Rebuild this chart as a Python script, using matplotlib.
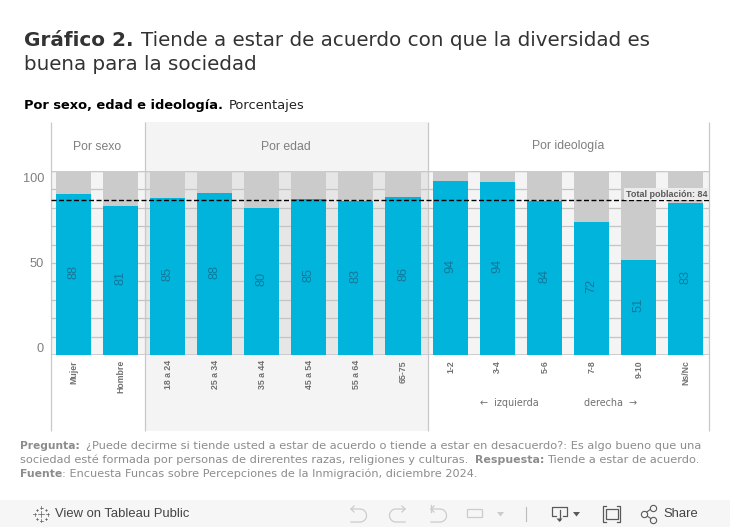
import matplotlib
matplotlib.use("Agg")
import matplotlib.pyplot as plt
from matplotlib.patches import Rectangle
import numpy as np

categories = ["Mujer", "Hombre", "18 a 24", "25 a 34", "35 a 44", "45 a 54", "55 a 64", "65-75",
              "1-2", "3-4", "5-6", "7-8", "9-10", "Ns/Nc"]
values = [88, 81, 85, 88, 80, 85, 83, 86, 94, 94, 84, 72, 51, 83]
bar_tops = [87.6, 81, 85.2, 88.2, 79.9, 84.8, 83.7, 85.9, 94.4, 93.9, 83.7, 72.3, 51.6, 82.6]
total = 84
groups = ["Por sexo", "Por edad", "Por ideología"]
group_edges = [-0.5, 1.5, 7.5, 13.5]

W, H = 730, 527
fig = plt.figure(figsize=(W / 100, H / 100), dpi=100, facecolor="white")

# pixel canvas for everything round the plot
bg = fig.add_axes([0, 0, 1, 1])
bg.set_xlim(0, W)
bg.set_ylim(H, 0)
bg.axis("off")

ax = fig.add_axes([51 / W, 1 - 355 / H, 658 / W, 184 / H])
ax.set_xlim(-0.478, 13.5)
ax.set_ylim(0, 100)
ax.set_facecolor("none")
x = np.arange(len(categories))


def px(v):
    return 74 + 47.08 * v


SANS = "Liberation Sans"
GREY = "#7f7f7f"

# panel backgrounds
bg.add_patch(Rectangle((144.5, 122), 283.5, 309, fc="#f4f4f4", ec="none"))
bg.add_patch(Rectangle((51, 171), 93.5, 184, fc="#f4f4f4", ec="none"))
bg.add_patch(Rectangle((144.5, 171), 283.5, 184, fc="#e6e6e6", ec="none"))
bg.add_patch(Rectangle((428, 171), 281, 184, fc="#f4f4f4", ec="none"))
for xp in [51, 144.5, 428, 709]:
    bg.plot([xp, xp], [122, 431], color="#c8c8c8", lw=0.9, solid_capstyle="butt")

# gridlines
ax.set_yticks(np.arange(0, 101, 10))
ax.set_yticklabels([])
ax.set_xticks([])
ax.grid(axis="y", color="#c4c4c4", lw=0.9)
ax.set_axisbelow(True)
ax.tick_params(length=0)
for s in ax.spines.values():
    s.set_visible(False)
ax.axhline(0, color="#c8c8c8", lw=1.2, zorder=1)
ax.axhline(100, color="#c8c8c8", lw=0.9, zorder=1)

# bars
ax.bar(x, [100] * len(x), width=35 / 47, color="#cbcbcb", zorder=2)
ax.bar(x, bar_tops, width=35 / 47, color="#00b4dc", zorder=3)
for i, v in enumerate(values):
    ax.text(i, bar_tops[i] / 2 + 1.2, str(v), rotation=90, ha="center", va="center",
            color="#11789a", fontsize=9.2, family=SANS, zorder=4)
    bg.text(px(i), 360, categories[i], rotation=90, ha="center", va="top",
            color="#707070", fontsize=6.3, family=SANS, fontweight="bold")

ax.axhline(total, color="black", lw=1, ls=(0, (3.6, 1.8)), zorder=5)
ax.text(13.46, 87.3, f"Total población: {total}", ha="right", va="center", fontsize=6.5,
        family=SANS, fontweight="bold", color="#5a5a5a", zorder=6,
        bbox=dict(fc="#ececec", ec="none", pad=1.2))

# y labels sit inside the plot band, as in the original
for yp, lab in [(179, "100"), (264, "50"), (349, "0")]:
    bg.text(44, yp, lab, ha="right", va="center", fontsize=9.2, family=SANS, color=GREY)

# panel headers
for g, a, b in zip(groups, group_edges[:-1], group_edges[1:]):
    bg.text(px((a + b) / 2), 146.5, g, ha="center", va="center", fontsize=8.8, family=SANS, color=GREY)

bg.text(480, 402.5, "←  izquierda", ha="left", va="center", fontsize=6.95, color="#707070")
bg.text(584, 402.5, "derecha  →", ha="left", va="center", fontsize=6.95, color="#707070")

# headings
bg.text(24, 40, "Gráfico 2.", fontsize=14.4, fontweight="bold", color="#333333", va="center")
bg.text(141, 40, "Tiende a estar de acuerdo con que la diversidad es", fontsize=14.3, color="#333333", va="center")
bg.text(24, 64, "buena para la sociedad", fontsize=14.3, color="#333333", va="center")
bg.text(24, 106, "Por sexo, edad e ideología.", fontsize=9.4, fontweight="bold", color="black", va="center")
bg.text(229, 106, "Porcentajes", fontsize=9.4, color="#222222", va="center")

# footnote
NOTE = "#8c8c8c"
fs = 8.22
bg.text(20, 446, "Pregunta:", fontsize=7.7, fontweight="bold", color=NOTE, va="center")
bg.text(86, 446, "¿Puede decirme si tiende usted a estar de acuerdo o tiende a estar en desacuerdo?: Es algo bueno que una",
        fontsize=fs, color=NOTE, va="center")
bg.text(20, 460, "sociedad esté formada por personas de direrentes razas, religiones y culturas.", fontsize=fs, color=NOTE, va="center")
bg.text(475, 460, "Respuesta:", fontsize=7.9, fontweight="bold", color=NOTE, va="center")
bg.text(547, 460, "Tiende a estar de acuerdo.", fontsize=fs, color=NOTE, va="center")
bg.text(20, 474, "Fuente", fontsize=7.8, fontweight="bold", color=NOTE, va="center")
bg.text(62.5, 474, ": Encuesta Funcas sobre Percepciones de la Inmigración, diciembre 2024.", fontsize=8.15, color=NOTE, va="center")

# Tableau toolbar
ICON = "#5a5a5a"
OFF = "#cccccc"
bg.add_patch(Rectangle((0, 500), W, 27, fc="#f6f6f6", ec="none"))
bg.text(55, 514, "View on Tableau Public", fontsize=9.4, family=SANS, color="#444444", va="center")
bg.text(663, 514, "Share", fontsize=9.4, family=SANS, color="#444444", va="center")
for dx, dy, r in [(0, 0, 3), (0, -6.5, 1.5), (0, 6.5, 1.5), (-6.5, 0, 1.5), (6.5, 0, 1.5),
                  (-4.5, -4.5, 1), (4.5, -4.5, 1), (-4.5, 4.5, 1), (4.5, 4.5, 1)]:
    bg.plot([41 + dx - r, 41 + dx + r], [514 + dy, 514 + dy], color=ICON, lw=0.5)
    bg.plot([41 + dx, 41 + dx], [514 + dy - r, 514 + dy + r], color=ICON, lw=0.5)

# undo / redo icons, greyed out
t = np.linspace(-np.pi / 2, np.pi / 2, 30)
for x0, sign in [(351, 1), (405, -1), (431, 1)]:
    xs = np.r_[x0, x0 + sign * 9, x0 + sign * 9 + sign * 6.5 * np.cos(t), x0]
    ys = np.r_[509, 509, 515.5 + 6.5 * np.sin(t), 522]
    bg.plot(xs, ys, color=OFF, lw=0.9)
    bg.plot([x0 + sign * 3, x0, x0 + sign * 3], [506, 509, 512], color=OFF, lw=0.9)
bg.plot([431, 431], [505, 512], color=OFF, lw=0.9)
bg.add_patch(Rectangle((467, 509), 15, 8, fc="none", ec=OFF, lw=0.9))
bg.fill([497, 504, 500.5], [512, 512, 516.5], color=OFF, lw=0)
bg.plot([526, 526], [507, 521], color="#bbbbbb", lw=0.8)

# download, fullscreen, share
bg.plot([556, 552, 552, 567, 567, 563], [516, 516, 507, 507, 516, 516], color=ICON, lw=0.9)
bg.plot([559.5, 559.5], [510, 520], color=ICON, lw=0.9)
bg.fill([556.5, 562.5, 559.5], [518.5, 518.5, 522], color=ICON, lw=0)
bg.fill([573, 580, 576.5], [512, 512, 516.5], color=ICON, lw=0)
bg.add_patch(Rectangle((606, 509), 11.5, 10, fc="none", ec=ICON, lw=0.9))
for xa, xb, ya, yb in [(603, 620, 506, 522)]:
    bg.plot([xa + 3, xa, xa, xa + 3], [ya, ya, yb, yb], color=ICON, lw=0.9)
    bg.plot([xb - 3, xb, xb, xb - 3], [ya, ya, yb, yb], color=ICON, lw=0.9)
bg.plot([653, 644, 653], [507.5, 514, 520], color=ICON, lw=0.8, zorder=3)
bg.plot([653, 644, 653], [507.5, 514, 520], "o", ms=4.5, mfc="#f6f6f6", mec=ICON, mew=0.8, zorder=4)

bg.set_xlim(0, W)
bg.set_ylim(H, 0)
fig.savefig("out.png", dpi=100)
